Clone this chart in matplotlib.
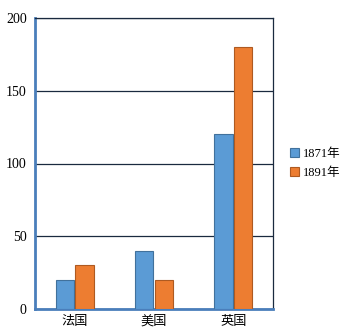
import numpy as np
import matplotlib.pyplot as plt

plt.rcParams['font.family'] = ['Liberation Serif', 'Noto Sans CJK SC']

categories = ['法国', '美国', '英国']
series_names = ['1871年', '1891年']
values_1871 = [20, 40, 120]
values_1891 = [30, 20, 180]

fig = plt.figure(figsize=(3.45, 3.36), dpi=100)
ax = fig.add_axes([35/345, 1 - 309/336, 238/345, 291/336])

x = np.arange(len(categories))
w = 0.23
ax.bar(x - 0.125, values_1871, w, color='#5B9BD5', edgecolor='#41719C', linewidth=0.8,
       label=series_names[0], zorder=3)
ax.bar(x + 0.125, values_1891, w, color='#ED7D31', edgecolor='#AE5A21', linewidth=0.8,
       label=series_names[1], zorder=3)

ax.set_xlim(-0.5, 2.5)
ax.set_ylim(0, 200)
ax.set_yticks([0, 50, 100, 150, 200])
ax.set_xticks(x)
ax.set_xticklabels(categories, family=['Noto Sans CJK SC'], fontsize=9.5)
ax.tick_params(axis='y', length=0, labelsize=10, pad=6)
ax.tick_params(axis='x', length=0, pad=4)
ax.grid(axis='y', color='#1A2A3F', linewidth=0.9, zorder=1)

for s in ['left', 'bottom']:
    ax.spines[s].set_color('#4A7EBB')
    ax.spines[s].set_linewidth(2)
for s in ['top', 'right']:
    ax.spines[s].set_color('#1A2A3F')
    ax.spines[s].set_linewidth(0.9)

ax.legend(loc='center left', bbox_to_anchor=(1.025, 0.5), frameon=False, fontsize=9,
          handlelength=0.7, handleheight=0.7, handletextpad=0.35, labelspacing=0.55)

plt.savefig('out.png')
